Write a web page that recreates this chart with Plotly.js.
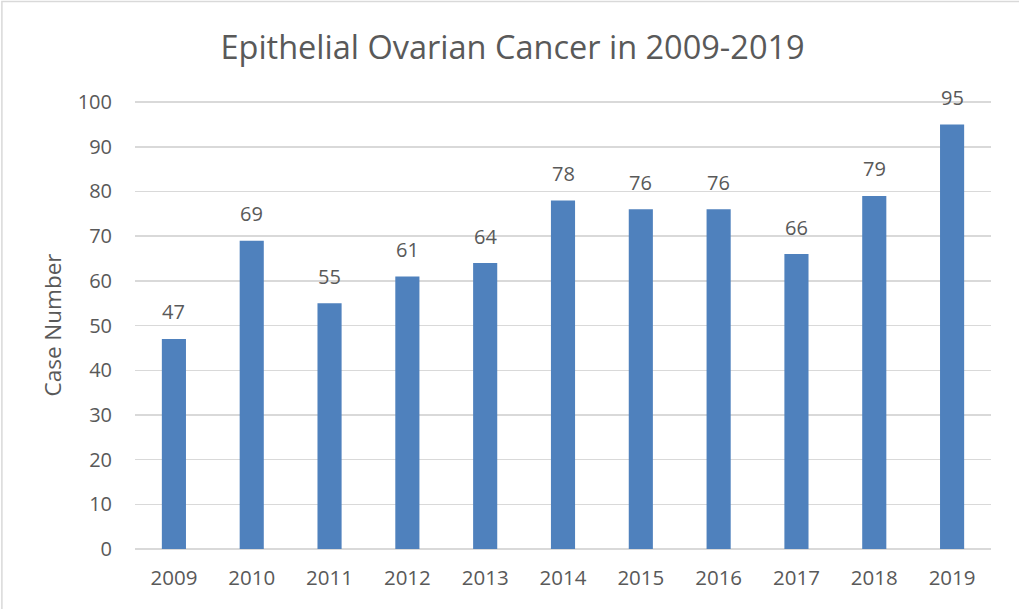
<!DOCTYPE html>
<html>
<head>
<meta charset="utf-8">
<script src="https://cdn.plot.ly/plotly-3.0.1.min.js"></script>
<style>
html,body{margin:0;padding:0;background:#fff;}
#chart{width:1019px;height:609px;}
</style>
</head>
<body>
<div id="chart"></div>
<script>
const years = ["2009","2010","2011","2012","2013","2014","2015","2016","2017","2018","2019"];
const caseCounts = [47,69,55,61,64,78,76,76,66,79,95];
const yTicks = [0,10,20,30,40,50,60,70,80,90,100];

const font = "Open Sans, Liberation Sans, sans-serif";
const textColor = "#595959";

const labelAnnotations = years.map((yr, i) => ({
  x: i, y: caseCounts[i], xref: "x", yref: "y",
  text: String(caseCounts[i]), showarrow: false,
  yanchor: "middle", yshift: 27,
  font: {family: font, size: 20, color: textColor}
}));

Plotly.newPlot("chart", [{
  type: "bar",
  x: years,
  y: caseCounts,
  marker: {color: "#4F81BD"},
  width: 0.31,
  hoverinfo: "x+y"
}], {
  width: 1019, height: 609,
  margin: {l: 135, r: 28, t: 101, b: 60},
  paper_bgcolor: "#ffffff",
  plot_bgcolor: "#ffffff",
  title: {text: "Epithelial Ovarian Cancer in 2009-2019", x: 0.503, xanchor: "center", y: 0.921, yanchor: "middle",
          font: {family: font, size: 32.5, color: textColor}},
  xaxis: {type: "category", range: [-0.5, years.length - 0.5], showgrid: false, zeroline: false, showline: false,
          ticks: "", tickfont: {family: font, size: 20.5, color: textColor}, ticklabelstandoff: 14},
  yaxis: {range: [0, 100.25], tickvals: yTicks, showgrid: true, gridcolor: "#D9D9D9", gridwidth: 1.5,
          zeroline: true, zerolinecolor: "#D9D9D9", zerolinewidth: 1.5,
          ticks: "", tickfont: {family: font, size: 20, color: textColor}, ticklabelstandoff: 22,
          title: {text: "Case Number", font: {family: font, size: 22.5, color: textColor}, standoff: 9}},
  annotations: labelAnnotations,
  shapes: [{type: "rect", xref: "paper", yref: "paper", x0: -0.1555, x1: 1.2, y0: -0.3, y1: 1.222,
            line: {color: "#D9D9D9", width: 1.5}}],
  showlegend: false,
  bargap: 0.69
}, {displayModeBar: false, staticPlot: true});
</script>
</body>
</html>
